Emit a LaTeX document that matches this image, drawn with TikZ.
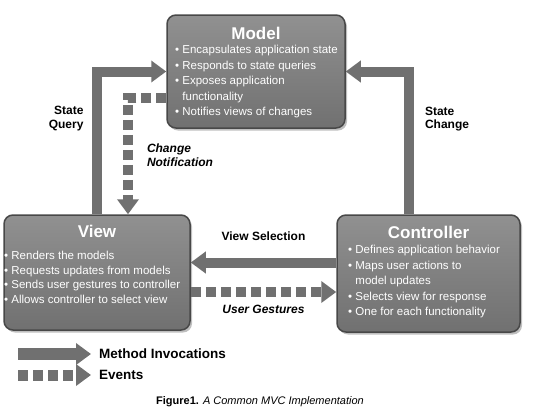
\documentclass[tikz,border=0pt]{standalone}
\usepackage{fontspec}
\setmainfont{Liberation Sans}
\usetikzlibrary{arrows.meta,shadows}
\definecolor{boxgray}{RGB}{125,125,125}
\definecolor{boxedge}{RGB}{72,72,72}
\definecolor{arrowgray}{RGB}{112,112,112}
\begin{document}
\begin{tikzpicture}[x=1pt, y=-1pt,
		box/.style={draw=boxedge, line width=1.5pt, rounded corners=9pt, top color=boxgray!85!white, bottom color=boxgray!90!black, drop shadow={opacity=0.5, shadow xshift=2pt, shadow yshift=-2.5pt}},
		title/.style={text=white, inner sep=0pt, font=\fontsize{17}{20}\selectfont\bfseries},
		bullets/.style={text=white, align=left, anchor=north west, inner sep=0pt, font=\fontsize{11.5}{15.5}\selectfont},
		method/.style={draw=arrowgray, line width=10pt, -{Triangle[length=15pt, width=21pt]}},
		event/.style={method, dash pattern=on 10pt off 5pt},
		lbl/.style={inner sep=0pt, font=\fontsize{12}{13.5}\selectfont\bfseries}]
	\useasboundingbox (0,0) rectangle (545,413);
	\node[box, minimum width=178pt, minimum height=113pt] (model) at (256,71.5) {};
	\node[box, minimum width=186pt, minimum height=115pt] (view) at (97,272.5) {};
	\node[box, minimum width=183pt, minimum height=117pt] (ctrl) at (428.5,273.5) {};
	\node[title] (model-title) at (256,33) {Model};
	\node[title] (view-title) at (97,231) {View};
	\node[title] (ctrl-title) at (428.5,232) {Controller};
	\node[bullets] (model-text) at (175,45) {• Encapsulates application state\\• Responds to state queries\\• Exposes application\\\phantom{• }functionality\\• Notifies views of changes};
	\node[bullets, font=\fontsize{11.5}{14.5}\selectfont] (view-text) at (4,251) {• Renders the models\\• Requests updates from models\\• Sends user gestures to controller\\• Allows controller to select view};
	\node[bullets] (ctrl-text) at (348,245) {• Defines application behavior\\• Maps user actions to\\\phantom{• }model updates\\• Selects view for response\\• One for each functionality};
	\draw[method] (view) |- node[lbl, pos=0.336, left=8.5pt, align=right] {State\\Query} (model);
	\draw[method] ([xshift=-20pt]ctrl.north) |- node[lbl, pos=0.333, right=11.5pt, align=left] {State\\Change} (model.east);
	\draw[event] ([yshift=-26.5pt]model.west) -| node[lbl, pos=0.745, right=14pt, align=left, font=\fontsize{12}{13.5}\selectfont\bfseries\itshape] {Change\\Notification} ([xshift=31pt]view.north);
	\draw[method] ([yshift=11pt]ctrl.west) -- node[lbl, above=17pt] {View Selection} ([yshift=11pt]ctrl.west -| view.east);
	\draw[event] ([yshift=-19.5pt]view.east) -- node[lbl, below=8pt, font=\fontsize{12}{13.5}\selectfont\bfseries\itshape] {User Gestures} ([yshift=-19.5pt]view.east -| ctrl.west);
	\node[lbl, anchor=west, font=\fontsize{13.5}{16}\selectfont\bfseries] (invoc) at (99,354) {Method Invocations};
	\node[lbl, anchor=west, font=\fontsize{13.5}{16}\selectfont\bfseries] (events) at (99,375) {Events};
	\coordinate (invoc-tail) at (18,354);
	\coordinate (events-tail) at (18,375);
	\draw[method, line width=12pt, shorten >=8pt] (invoc-tail) -- (invoc.west);
	\draw[event, line width=11pt, shorten >=8pt] (events-tail) -- (events.west);
	\node[inner sep=0pt, font=\fontsize{11}{13}\selectfont] (caption) at (260,402) {\textbf{Figure1.} \textit{A Common MVC Implementation}};
\end{tikzpicture}
\end{document}
